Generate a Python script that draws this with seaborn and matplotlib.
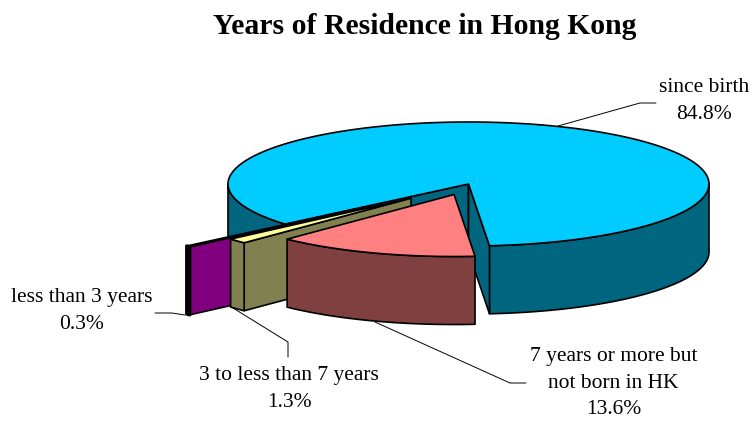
import numpy as np
import matplotlib.pyplot as plt
import seaborn as sns

OUTPUT_PATH = "out.png"

labels = ["since birth", "7 years or more but\nnot born in HK", "3 to less than 7 years", "less than 3 years"]
shares = [84.8, 13.6, 1.3, 0.3]
explode = [0.0, 0.18, 0.33, 0.54]
top_colors = ["#00CCFF", "#FF8080", "#FFFF99", "#A000A0"]
side_colors = ["#006680", "#804040", "#808050", "#800080"]

CX, CY = 468.5, 184.0
RX, RY = 240.5, 62.0
DEPTH = 68.0
GAP_START = -85.0
LW = 1.2


def arc_points(cx, cy, start, end):
    angles = np.radians(np.linspace(start, end, 200))
    return cx + RX * np.cos(angles), cy - RY * np.sin(angles)


def draw_wall(ax, x, y, color, lw=LW):
    wall_x = np.concatenate([x, x[::-1]])
    wall_y = np.concatenate([y, y[::-1] + DEPTH])
    ax.fill(wall_x, wall_y, facecolor=color, edgecolor="black", linewidth=lw, joinstyle="round")


def draw_radial_wall(ax, cx, cy, angle, color):
    x, y = arc_points(cx, cy, angle, angle)
    draw_wall(ax, np.array([cx, x[0]]), np.array([cy, y[0]]), color)


def draw_top(ax, cx, cy, start, end, color):
    x, y = arc_points(cx, cy, start, end)
    ax.fill(np.r_[cx, x], np.r_[cy, y], facecolor=color, edgecolor="black", linewidth=LW, joinstyle="round")


def slice_angles():
    # slices run clockwise from the bottom of the pie, big slice last
    spans = np.array(shares[1:]) * 3.6
    ends = GAP_START - np.cumsum(spans)
    starts = np.r_[GAP_START, ends[:-1]]
    return starts, ends


def draw_big_slice(ax, left_end):
    # outer rim only shows on the front half
    x, y = arc_points(CX, CY, GAP_START, 0)
    draw_wall(ax, x, y, side_colors[0])
    x, y = arc_points(CX, CY, -180, left_end)
    draw_wall(ax, x, y, side_colors[0])
    draw_radial_wall(ax, CX, CY, left_end, side_colors[0])
    draw_radial_wall(ax, CX, CY, GAP_START, side_colors[0])
    draw_top(ax, CX, CY, left_end, left_end - shares[0] * 3.6, top_colors[0])


def draw_small_slice(ax, i, start, end):
    mid = np.radians((start + end) / 2)
    cx = CX + explode[i] * RX * np.cos(mid)
    cy = CY - explode[i] * RY * np.sin(mid)
    if i > 1:
        draw_radial_wall(ax, cx, cy, start, side_colors[i])
    x, y = arc_points(cx, cy, start, end)
    # the thinnest slice is almost only its outline
    draw_wall(ax, x, y, side_colors[i], lw=2.4 if i == 3 else LW)
    draw_top(ax, cx, cy, start, end, top_colors[i])


def add_leader(ax, xs, ys):
    ax.plot(xs, ys, color="black", linewidth=0.7)


def main():
    sns.set_theme(style="white", rc={"text.color": "black"})
    plt.rcParams["font.family"] = ["Liberation Serif", "DejaVu Serif"]

    fig, ax = plt.subplots(figsize=(7.52, 4.22), dpi=100)
    fig.subplots_adjust(left=0, right=1, top=1, bottom=0)
    ax.set_xlim(0, 752)
    ax.set_ylim(422, 0)
    ax.axis("off")

    starts, ends = slice_angles()
    draw_big_slice(ax, ends[-1])
    for i in [3, 2, 1]:
        draw_small_slice(ax, i, starts[i - 1], ends[i - 1])

    add_leader(ax, [558, 640, 656], [126, 103, 103])
    add_leader(ax, [155, 172, 185], [313, 313, 315])
    add_leader(ax, [233, 288, 288], [308, 342, 357])
    add_leader(ax, [375, 510, 526], [322, 383, 383])

    ax.text(425, 27, "Years of Residence in Hong Kong", fontsize=21.4, fontweight="bold",
            ha="center", va="center")

    label_font = 15.5
    line_gap = 1.57
    ax.text(704, 101, f"{labels[0]}\n{shares[0]}%", fontsize=label_font, ha="center", va="center", linespacing=line_gap)
    ax.text(613.5, 383, f"{labels[1]}\n{shares[1]}%", fontsize=label_font, ha="center", va="center", linespacing=line_gap)
    ax.text(289, 389, f"{labels[2]}\n{shares[2]}%", fontsize=label_font, ha="center", va="center", linespacing=line_gap)
    ax.text(82, 311, f"{labels[3]}\n{shares[3]}%", fontsize=label_font, ha="center", va="center", linespacing=line_gap)

    fig.savefig(OUTPUT_PATH, dpi=100)
    plt.close(fig)


if __name__ == "__main__":
    main()
